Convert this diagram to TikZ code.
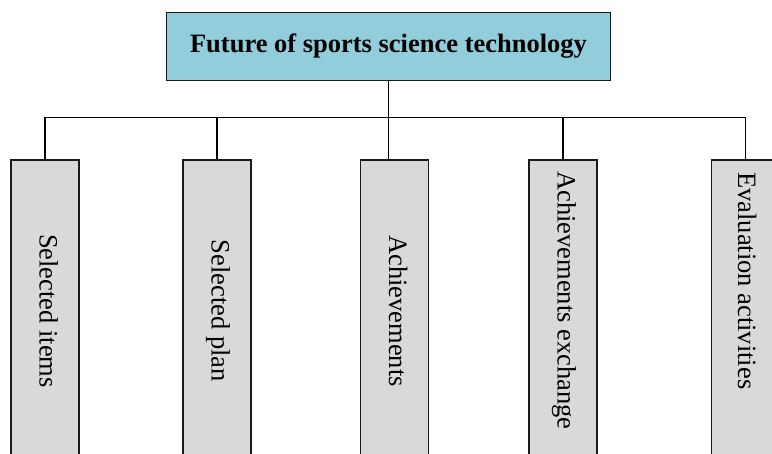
\documentclass[tikz,border=0pt]{standalone}
\usepackage{fontspec}
\setmainfont{Liberation Serif}
\definecolor{celeste}{HTML}{92CDDC}
\definecolor{grisclaro}{HTML}{D9D9D9}
\begin{document}
\begin{tikzpicture}[x=1pt, y=1pt,
        titulo/.style={draw=black!90, line width=1.9pt, fill=celeste,
        minimum width=444pt, minimum height=68pt,
        font=\fontsize{26.5}{30}\selectfont\bfseries},
        caja/.style={draw=black!90, line width=1.9pt, fill=grisclaro,
        minimum width=68pt, minimum height=302pt, anchor=north, inner sep=0pt},
        etiqueta/.style={rotate=-90, inner sep=0pt, text height=0.7em,
        text depth=0.2em, font=\fontsize{26.5}{30}\selectfont},
        linea/.style={line width=1.7pt}
    ]
        \useasboundingbox (0,0) rectangle (772,-454);
        \clip (0,0) rectangle (772,-454);
        \coordinate (bus) at (0,-117.5);
        \node[titulo] (tema) at (388.5,-46.5) {Future of sports science technology};
        \node[caja] (items) at (45,-159) {};
        \node[caja] (plan) at (217,-159) {};
        \node[caja] (logros) at (394.5,-159) {};
        \node[caja] (intercambio) at (563,-159) {};
        \node[caja] (evaluacion) at (745.5,-159) {};
        \node[etiqueta] (t1) at ([xshift=-3pt]items.center) {Selected items};
        \node[etiqueta] (t2) at ([xshift=-3pt]plan.center) {Selected plan};
        \node[etiqueta] (t3) at ([xshift=-3pt]logros.center) {Achievements};
        \node[etiqueta, anchor=west] (t4) at ([xshift=-3pt, yshift=-12pt]intercambio.north) {Achievements exchange};
        \node[etiqueta, anchor=west] (t5) at ([xshift=-5pt, yshift=-13pt]evaluacion.north) {Evaluation activities};
        \draw[linea] (tema.south) -- (tema.south |- logros.north);
        \draw[linea] (items.north) -- (items.north |- bus) -- (evaluacion.north |- bus) -- (evaluacion.north);
        \draw[linea] (plan.north) -- (plan.north |- bus);
        \draw[linea] (intercambio.north) -- (intercambio.north |- bus);
    \end{tikzpicture}
\end{document}
